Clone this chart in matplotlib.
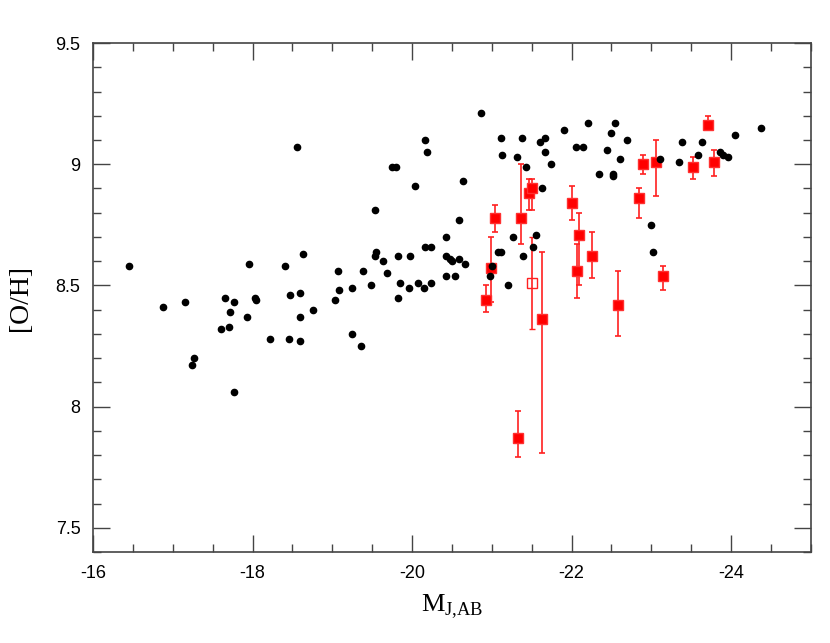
import matplotlib
matplotlib.use("Agg")
import matplotlib.pyplot as plt
from matplotlib.ticker import MultipleLocator

# black points: local sample
mj_black = [-16.45, -16.88, -17.16, -17.27, -17.24, -17.65, -17.77, -17.72, -17.60, -17.70,
            -17.77, -17.95, -17.93, -18.03, -18.04, -18.22, -18.41, -18.46, -18.47, -18.59,
            -18.59, -18.60, -18.63, -18.56, -18.76, -19.04, -19.09, -19.07, -19.25, -19.25,
            -19.36, -19.38, -19.49, -19.54, -19.53, -19.55, -19.63, -19.68, -19.75, -19.80,
            -19.82, -19.85, -19.83, -19.96, -19.97, -20.04, -20.08, -20.15, -20.16, -20.19,
            -20.16, -20.24, -20.24, -20.42, -20.43, -20.47, -20.50, -20.59, -20.43, -20.54,
            -20.59, -20.64, -20.67, -20.86, -20.98, -21.00, -21.08, -21.12, -21.12, -21.13,
            -21.20, -21.27, -21.31, -21.38, -21.39, -21.43, -21.52, -21.56, -21.60, -21.63,
            -21.67, -21.67, -21.74, -21.91, -22.05, -22.14, -22.21, -22.34, -22.44, -22.50,
            -22.52, -22.52, -22.54, -22.61, -22.70, -22.99, -23.02, -23.11, -23.35, -23.39,
            -23.58, -23.63, -23.86, -23.90, -23.96, -24.05, -24.38]
oh_black = [8.58, 8.41, 8.43, 8.20, 8.17, 8.45, 8.43, 8.39, 8.32, 8.33,
            8.06, 8.59, 8.37, 8.45, 8.44, 8.28, 8.58, 8.28, 8.46, 8.47,
            8.37, 8.27, 8.63, 9.07, 8.40, 8.44, 8.48, 8.56, 8.49, 8.30,
            8.25, 8.56, 8.50, 8.81, 8.62, 8.64, 8.60, 8.55, 8.99, 8.99,
            8.62, 8.51, 8.45, 8.49, 8.62, 8.91, 8.51, 8.49, 9.10, 9.05,
            8.66, 8.66, 8.51, 8.70, 8.62, 8.61, 8.60, 8.61, 8.54, 8.54,
            8.77, 8.93, 8.59, 9.21, 8.54, 8.58, 8.64, 8.64, 9.11, 9.04,
            8.50, 8.70, 9.03, 9.11, 8.62, 8.99, 8.66, 8.71, 9.09, 8.90,
            9.11, 9.05, 9.00, 9.14, 9.07, 9.07, 9.17, 8.96, 9.06, 9.13,
            8.96, 8.95, 9.17, 9.02, 9.10, 8.75, 8.64, 9.02, 9.01, 9.09,
            9.04, 9.09, 9.05, 9.04, 9.03, 9.12, 9.15]

# red squares with error bars
mj_red = [-20.93, -20.99, -21.04, -21.33, -21.36, -21.47, -21.50, -21.63, -22.00, -22.07,
          -22.09, -22.26, -22.58, -22.85, -22.89, -23.06, -23.14, -23.52, -23.71, -23.78]
oh_red = [8.44, 8.57, 8.78, 7.87, 8.78, 8.88, 8.90, 8.36, 8.84, 8.56,
          8.71, 8.62, 8.42, 8.86, 9.00, 9.01, 8.54, 8.99, 9.16, 9.01]
err_lo = [0.05, 0.14, 0.06, 0.08, 0.11, 0.07, 0.09, 0.55, 0.07, 0.11,
          0.21, 0.09, 0.13, 0.08, 0.04, 0.14, 0.06, 0.05, 0.02, 0.06]
err_hi = [0.06, 0.13, 0.05, 0.11, 0.22, 0.06, 0.04, 0.28, 0.07, 0.11,
          0.09, 0.10, 0.14, 0.04, 0.04, 0.09, 0.04, 0.04, 0.04, 0.05]

# open square
mj_open = [-21.50]
oh_open = [8.51]
err_open = [0.19]

plt.rcParams['font.family'] = ['Liberation Sans', 'DejaVu Sans']
fig = plt.figure(figsize=(8.3, 6.43), dpi=100)
ax = fig.add_axes([0.112, 0.1415, 0.865, 0.7915])

ax.errorbar(mj_red, oh_red, yerr=[err_lo, err_hi], fmt='s', color='#ff0000',
            ms=7.5, mec='#ff3030', ecolor='#ff2020', elinewidth=1.2, capsize=2.5,
            capthick=1.2, zorder=2)
ax.errorbar(mj_open, oh_open, yerr=[err_open, err_open], fmt='s', mfc='none',
            mec='#ff2020', ms=7, mew=1.0, ecolor='#ff2020', elinewidth=1.2,
            capsize=2.5, capthick=1.2, zorder=2)
ax.plot(mj_black, oh_black, 'o', color='black', ms=4.5, zorder=3)

ax.set_xlim(-16, -25)
ax.set_ylim(7.4, 9.5)
ax.xaxis.set_major_locator(MultipleLocator(2))
ax.xaxis.set_minor_locator(MultipleLocator(0.5))
ax.yaxis.set_major_locator(MultipleLocator(0.5))
ax.yaxis.set_minor_locator(MultipleLocator(0.1))
ax.set_yticks([7.5, 8, 8.5, 9, 9.5])
ax.set_yticklabels(['7.5', '8', '8.5', '9', '9.5'])
ax.set_xticklabels(['%d' % v for v in ax.get_xticks()])

for s in ax.spines.values():
    s.set_color('#444444')
    s.set_linewidth(1.2)
ax.tick_params(which='both', direction='in', top=True, right=True,
               color='#444444', width=1.0, labelsize=13, pad=9)
ax.tick_params(which='major', length=12)
ax.tick_params(which='minor', length=6)

ax.set_ylabel('[O/H]', family='Liberation Serif', fontsize=20, labelpad=16)
ax.set_xlabel(r'M$_{\mathregular{J{,}AB}}$', family='Liberation Serif', fontsize=19,
              labelpad=8)

fig.savefig('out.png', dpi=100)
